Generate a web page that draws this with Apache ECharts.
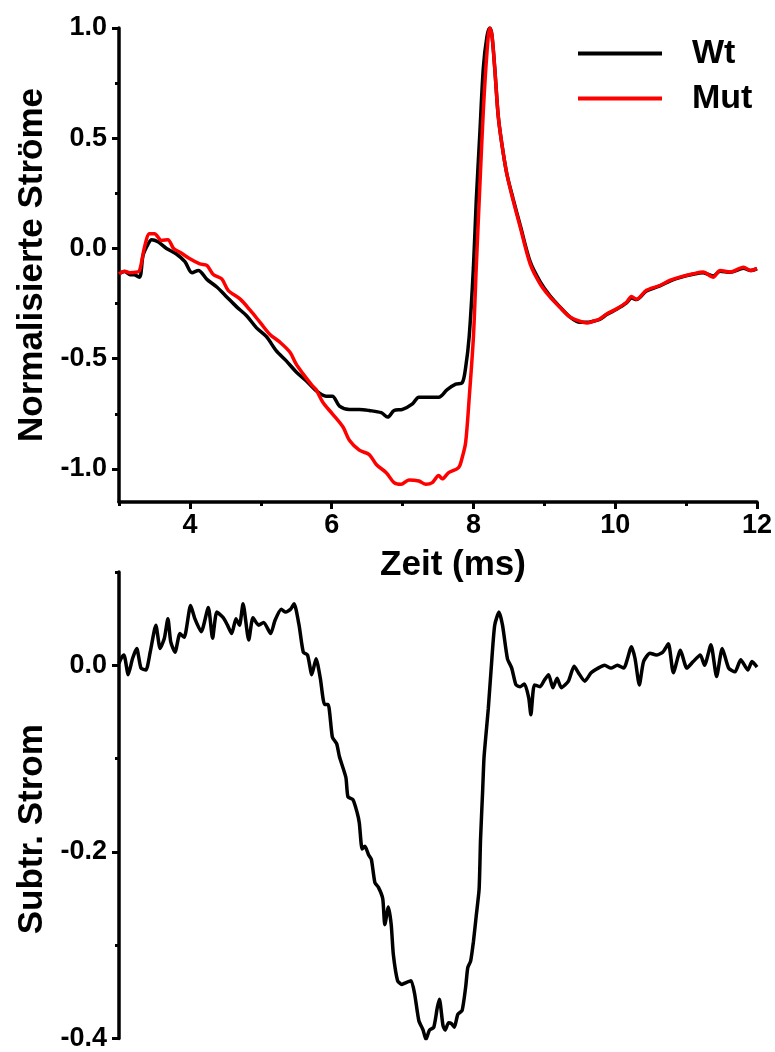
<!DOCTYPE html>
<html>
<head>
<meta charset="utf-8">
<script src="https://cdn.jsdelivr.net/npm/echarts@6/dist/echarts.min.js"></script>
<style>
html,body{margin:0;padding:0;background:#fff;}
#chart{width:775px;height:1052px;}
</style>
</head>
<body>
<div id="chart"></div>
<script>
// ---- data (time in ms, normalized currents) ----
const wtCurve = [
[3.0,-0.115],[3.08,-0.105],[3.15,-0.118],[3.22,-0.12],[3.29,-0.13],[3.34,-0.03],[3.41,0.02],[3.46,0.04],
[3.55,0.03],[3.67,0.0],[3.81,-0.025],[3.93,-0.06],[4.03,-0.11],[4.12,-0.10],[4.24,-0.14],[4.38,-0.175],
[4.52,-0.22],[4.66,-0.265],[4.80,-0.305],[4.94,-0.36],[5.08,-0.40],[5.22,-0.465],[5.36,-0.51],[5.50,-0.56],
[5.64,-0.60],[5.78,-0.645],[5.92,-0.67],[6.01,-0.67],[6.11,-0.715],[6.25,-0.73],[6.39,-0.73],[6.53,-0.735],
[6.70,-0.745],[6.79,-0.765],[6.88,-0.735],[7.00,-0.73],[7.14,-0.705],[7.23,-0.675],[7.37,-0.675],[7.51,-0.675],
[7.63,-0.64],[7.75,-0.615],[7.84,-0.61],[7.89,-0.54],[7.94,-0.40],[8.0,-0.085],[8.04,0.218],[8.09,0.52],
[8.14,0.82],[8.19,0.96],[8.23,1.0],[8.26,0.97],[8.30,0.82],[8.35,0.60],[8.40,0.476],[8.47,0.34],[8.56,0.225],
[8.66,0.105],[8.80,-0.06],[8.94,-0.15],[9.08,-0.215],[9.22,-0.265],[9.36,-0.31],[9.50,-0.335],[9.60,-0.335],
[9.69,-0.33],[9.78,-0.322],[9.88,-0.30],[10.02,-0.276],[10.16,-0.247],[10.23,-0.225],[10.30,-0.232],[10.44,-0.193],
[10.63,-0.17],[10.77,-0.148],[10.91,-0.132],[11.10,-0.117],[11.24,-0.11],[11.38,-0.125],[11.48,-0.103],
[11.62,-0.108],[11.81,-0.09],[11.91,-0.1],[12.0,-0.092]
];
const mutCurve = [
[3.0,-0.115],[3.08,-0.103],[3.15,-0.11],[3.24,-0.108],[3.29,-0.10],[3.36,0.006],[3.43,0.067],[3.50,0.067],
[3.60,0.036],[3.69,0.04],[3.77,0.0],[3.86,-0.017],[4.0,-0.047],[4.14,-0.07],[4.24,-0.077],[4.33,-0.118],
[4.45,-0.138],[4.54,-0.19],[4.71,-0.23],[4.85,-0.28],[4.99,-0.335],[5.13,-0.39],[5.27,-0.425],[5.41,-0.47],
[5.50,-0.525],[5.60,-0.57],[5.72,-0.62],[5.78,-0.64],[5.88,-0.70],[6.01,-0.75],[6.16,-0.81],[6.25,-0.87],
[6.39,-0.915],[6.53,-0.935],[6.63,-0.98],[6.77,-1.017],[6.88,-1.062],[6.98,-1.07],[7.09,-1.05],[7.23,-1.055],
[7.33,-1.07],[7.42,-1.062],[7.51,-1.03],[7.56,-1.045],[7.65,-1.017],[7.79,-0.994],[7.84,-0.95],[7.89,-0.88],
[7.94,-0.68],[8.0,-0.40],[8.04,-0.085],[8.09,0.28],[8.14,0.627],[8.19,0.885],[8.23,1.0],[8.26,0.97],
[8.30,0.82],[8.35,0.60],[8.40,0.476],[8.47,0.34],[8.56,0.218],[8.66,0.097],[8.80,-0.07],[8.94,-0.16],
[9.08,-0.22],[9.22,-0.267],[9.36,-0.31],[9.50,-0.33],[9.60,-0.338],[9.69,-0.33],[9.78,-0.32],[9.88,-0.297],
[10.02,-0.274],[10.16,-0.244],[10.23,-0.218],[10.30,-0.23],[10.44,-0.19],[10.63,-0.168],[10.77,-0.145],
[10.91,-0.13],[11.10,-0.115],[11.24,-0.107],[11.38,-0.13],[11.48,-0.10],[11.62,-0.107],[11.81,-0.085],
[11.91,-0.10],[12.0,-0.09]
];
const diffCurve = [
[3.0,0.002],[3.03,0.0074],[3.07,0.011],[3.13,-0.010],[3.19,0.007],[3.25,0.018],[3.31,-0.003],[3.38,-0.005],
[3.44,0.014],[3.52,0.043],[3.58,0.018],[3.64,0.029],[3.69,0.050],[3.73,0.025],[3.79,0.014],[3.86,0.034],
[3.92,0.030],[4.01,0.064],[4.07,0.050],[4.16,0.036],[4.26,0.062],[4.32,0.029],[4.38,0.057],[4.47,0.051],
[4.53,0.043],[4.59,0.034],[4.65,0.050],[4.70,0.043],[4.75,0.066],[4.83,0.027],[4.89,0.051],[4.97,0.043],
[5.04,0.046],[5.14,0.034],[5.20,0.048],[5.29,0.060],[5.35,0.057],[5.42,0.060],[5.47,0.066],[5.54,0.043],
[5.60,0.014],[5.66,0.011],[5.72,-0.010],[5.78,0.007],[5.84,-0.014],[5.90,-0.042],[5.95,-0.042],[6.01,-0.077],
[6.07,-0.084],[6.11,-0.098],[6.20,-0.12],[6.23,-0.141],[6.30,-0.144],[6.36,-0.158],[6.39,-0.169],[6.43,-0.197],
[6.47,-0.194],[6.52,-0.203],[6.56,-0.208],[6.61,-0.233],[6.66,-0.238],[6.72,-0.250],[6.75,-0.278],[6.80,-0.259],
[6.84,-0.278],[6.87,-0.310],[6.93,-0.338],[6.99,-0.342],[7.05,-0.340],[7.12,-0.338],[7.17,-0.352],[7.23,-0.381],
[7.29,-0.391],[7.33,-0.401],[7.38,-0.391],[7.44,-0.388],[7.49,-0.367],[7.52,-0.358],[7.57,-0.386],[7.60,-0.391],
[7.65,-0.383],[7.69,-0.384],[7.73,-0.388],[7.78,-0.374],[7.84,-0.370],[7.89,-0.345],[7.92,-0.324],[7.96,-0.317],
[8.00,-0.296],[8.04,-0.268],[8.08,-0.240],[8.10,-0.187],[8.13,-0.134],[8.15,-0.098],[8.21,-0.046],[8.26,0.007],
[8.30,0.043],[8.36,0.057],[8.41,0.043],[8.48,0.007],[8.54,-0.003],[8.60,-0.021],[8.66,-0.023],[8.72,-0.020],
[8.78,-0.035],[8.81,-0.053],[8.86,-0.021],[8.94,-0.023],[9.00,-0.016],[9.06,-0.010],[9.12,-0.024],[9.18,-0.014],
[9.24,-0.024],[9.34,-0.017],[9.42,-0.001],[9.48,-0.008],[9.57,-0.017],[9.66,-0.008],[9.76,-0.003],[9.85,0.000],
[9.94,-0.003],[10.03,0.000],[10.12,-0.003],[10.23,0.020],[10.28,0.007],[10.34,-0.021],[10.40,0.004],[10.49,0.013],
[10.58,0.011],[10.67,0.014],[10.75,0.023],[10.82,-0.008],[10.92,0.016],[11.01,-0.003],[11.10,0.004],[11.20,0.011],
[11.26,0.000],[11.35,0.022],[11.43,-0.012],[11.51,0.018],[11.60,-0.003],[11.69,-0.007],[11.77,0.006],[11.87,-0.005],
[11.93,0.004],[12.0,-0.002]
];
const xMajorTicks = [4, 6, 8, 10, 12];
const xMinorTicks = [3, 5, 7, 9, 11];
const yTopMajor = [-1.0, -0.5, 0.0, 0.5, 1.0];
const yTopMinor = [-0.75, -0.25, 0.25, 0.75];
const yBotMajor = [-0.4, -0.2, 0.0];
const yBotMinor = [-0.3, -0.1, 0.1];

const FONT = 'Arial, "Liberation Sans", Helvetica, sans-serif';
const axisLineStyle = {show: true, onZero: false, lineStyle: {color: '#000', width: 3.5}};
const tickStyle = {color: '#000', width: 3};
const labelStyle = {color: '#000', fontFamily: FONT, fontWeight: 'bold', fontSize: 27};
const nameStyle = {color: '#000', fontFamily: FONT, fontWeight: 'bold', fontSize: 35};

const chart = echarts.init(document.getElementById('chart'), null, {renderer: 'canvas'});
chart.setOption({
  animation: false,
  backgroundColor: '#fff',
  grid: [
    {left: 119, right: 18, top: 28, height: 474},
    {left: 119, right: 18, top: 572, height: 473}
  ],
  legend: {
    orient: 'vertical', left: 573, top: 31, itemWidth: 84, itemHeight: 4, itemGap: 10,
    icon: 'rect',
    textStyle: {color: '#000', fontFamily: FONT, fontWeight: 'bold', fontSize: 34, lineHeight: 35, padding: [0, 0, 0, 25]},
    data: ['Wt', 'Mut']
  },
  xAxis: [
    {gridIndex: 0, type: 'value', min: 3, max: 12, position: 'bottom',
     axisLine: axisLineStyle,
     axisTick: {show: true, inside: false, length: 7, lineStyle: tickStyle, customValues: xMajorTicks},
     axisLabel: Object.assign({margin: 10, customValues: xMajorTicks, formatter: v => String(v)}, labelStyle),
     splitLine: {show: false},
     name: 'Zeit (ms)', nameLocation: 'middle', nameGap: 46,
     nameTextStyle: Object.assign({padding: [0, 0, 0, 30]}, nameStyle)},
    {gridIndex: 0, type: 'value', min: 3, max: 12, position: 'bottom',
     axisLine: {show: false, onZero: false},
     axisTick: {show: true, inside: false, length: 4, lineStyle: tickStyle, customValues: xMinorTicks},
     axisLabel: {show: false}, splitLine: {show: false}},
    {gridIndex: 1, type: 'value', min: 3, max: 12, show: false, axisLine: {onZero: false}}
  ],
  yAxis: [
    {gridIndex: 0, type: 'value', min: -1.15, max: 1.0, position: 'left',
     axisLine: axisLineStyle,
     axisTick: {show: true, inside: false, length: 7, lineStyle: tickStyle, customValues: yTopMajor},
     axisLabel: Object.assign({margin: 12, customValues: yTopMajor, formatter: v => v.toFixed(1)}, labelStyle),
     splitLine: {show: false},
     name: 'Normalisierte Ströme', nameLocation: 'middle', nameGap: 66,
     nameTextStyle: nameStyle},
    {gridIndex: 0, type: 'value', min: -1.15, max: 1.0, position: 'left',
     axisLine: {show: false, onZero: false},
     axisTick: {show: true, inside: false, length: 4, lineStyle: tickStyle, customValues: yTopMinor},
     axisLabel: {show: false}, splitLine: {show: false}},
    {gridIndex: 1, type: 'value', min: -0.4, max: 0.1, position: 'left',
     axisLine: axisLineStyle,
     axisTick: {show: true, inside: false, length: 7, lineStyle: tickStyle, customValues: yBotMajor},
     axisLabel: Object.assign({margin: 12, customValues: yBotMajor, formatter: v => v.toFixed(1)}, labelStyle),
     splitLine: {show: false},
     name: 'Subtr. Strom', nameLocation: 'middle', nameGap: 66,
     nameTextStyle: Object.assign({padding: [0, 48, 0, 0]}, nameStyle)},
    {gridIndex: 1, type: 'value', min: -0.4, max: 0.1, position: 'left',
     axisLine: {show: false, onZero: false},
     axisTick: {show: true, inside: false, length: 4, lineStyle: tickStyle, customValues: yBotMinor},
     axisLabel: {show: false}, splitLine: {show: false}}
  ],
  series: [
    {name: 'Wt', type: 'line', xAxisIndex: 0, yAxisIndex: 0, data: wtCurve, symbol: 'none', smooth: 0.3,
     lineStyle: {color: '#000', width: 3.5}, itemStyle: {color: '#000'}},
    {name: 'Mut', type: 'line', xAxisIndex: 0, yAxisIndex: 0, data: mutCurve, symbol: 'none', smooth: 0.3,
     lineStyle: {color: '#ff0000', width: 3.5}, itemStyle: {color: '#ff0000'}},
    {name: 'Diff', type: 'line', xAxisIndex: 2, yAxisIndex: 2, data: diffCurve, symbol: 'none', smooth: 0.2,
     lineStyle: {color: '#000', width: 3.5}, itemStyle: {color: '#000'}}
  ]
});
</script>
</body>
</html>
